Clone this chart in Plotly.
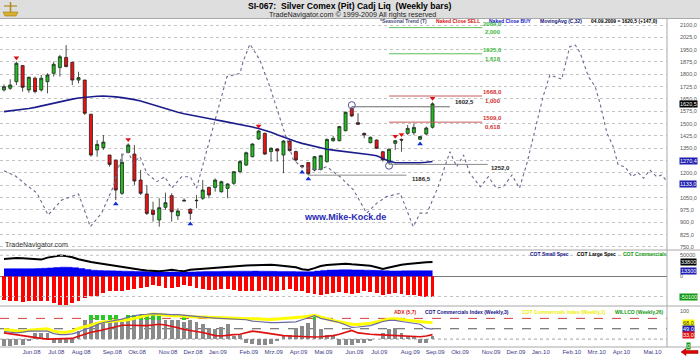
import numpy as np
import pandas as pd
import plotly.graph_objects as go

# ---------------- DATA ----------------
first_bar = "2008-05-09"   # first weekly bar (Friday)
opens = [1705, 1715, 1755, 1853, 1705, 1776, 1705, 1755, 1806, 1841,
         1903, 1873, 1765, 1765, 1557, 1340, 1354, 1309, 1279, 1076,
         1325, 1315, 1157, 1072, 973, 914, 991, 1062, 940, 1029,
         979, 1031, 1046, 1112, 1112, 1086, 1106, 1137, 1208, 1248,
         1299, 1407, 1441, 1330, 1346, 1309, 1394, 1330, 1245, 1263,
         1218, 1222, 1269, 1396, 1396, 1457, 1593, 1506, 1441, 1384,
         1400, 1329, 1262, 1380, 1404, 1441, 1445, 1405, 1437, 1478]
highs = [1739, 1770, 1877, 1855, 1786, 1786, 1796, 1806, 1877, 1918,
         1978, 1877, 1816, 1767, 1560, 1400, 1431, 1309, 1279, 1319,
         1380, 1370, 1218, 1127, 1025, 1046, 1080, 1076, 985, 1046,
         985, 1066, 1157, 1117, 1167, 1153, 1137, 1208, 1279, 1330,
         1380, 1461, 1445, 1356, 1350, 1400, 1400, 1336, 1250, 1265,
         1303, 1310, 1410, 1425, 1486, 1573, 1602.5, 1563, 1445, 1421,
         1404, 1333, 1350, 1400, 1410, 1492, 1502, 1425, 1482, 1630]
lows = [1695, 1705, 1735, 1695, 1688, 1684, 1695, 1684, 1786, 1786,
        1843, 1735, 1745, 1553, 1299, 1299, 1340, 1238, 1035, 1066,
        1319, 1127, 1066, 944, 904, 873, 975, 904, 914, 1025,
        914, 985, 1035, 1046, 1086, 1080, 1046, 1127, 1198, 1242,
        1295, 1400, 1309, 1269, 1269, 1198, 1330, 1269, 1228, 1186.5,
        1210, 1215, 1263, 1390, 1392, 1453, 1540, 1492, 1411, 1380,
        1346, 1269, 1252, 1340, 1329, 1431, 1431, 1400, 1431, 1470]
closes = [1725, 1735, 1867, 1721, 1782, 1695, 1776, 1796, 1861, 1907,
          1847, 1765, 1780, 1563, 1309, 1374, 1388, 1252, 1096, 1265,
          1370, 1151, 1076, 954, 948, 989, 1019, 964, 969, 1033,
          954, 1033, 1096, 1066, 1157, 1147, 1133, 1208, 1269, 1323,
          1376, 1455, 1315, 1350, 1334, 1394, 1336, 1279, 1238, 1195,
          1299, 1305, 1404, 1411, 1482, 1569, 1547, 1496, 1431, 1417,
          1350, 1279, 1344, 1396, 1400, 1471, 1477, 1421, 1473.5, 1620.5]
moving_avg_32 = [1573, 1577, 1581, 1586, 1592, 1599, 1608, 1616, 1625, 1633,
                 1641, 1649, 1656, 1661, 1665, 1667, 1668, 1667, 1663, 1658,
                 1653, 1646, 1638, 1626, 1614, 1602, 1591, 1579, 1569, 1560,
                 1552, 1545, 1539, 1531, 1524, 1517, 1510, 1504, 1497, 1488,
                 1479, 1470, 1459, 1447, 1432, 1417, 1403, 1391, 1380, 1371,
                 1360, 1352, 1344, 1339, 1335, 1329, 1325, 1321, 1317, 1311,
                 1305, 1290, 1272, 1262, 1261, 1261, 1261, 1262, 1265, 1270]
seasonal_week = [0, 1.8, 3.4, 5.3, 7.1, 9.3, 12.0, 13.9, 15.7, 17.6,
                 19.0, 20.0, 20.8, 21.9, 23.0, 24.6, 25.9, 27.0, 28.6, 30.0,
                 31.0, 32.1, 33.5, 34.8, 35.9, 38.0, 38.5, 39.6, 41.2, 42.8,
                 45.0, 46.6, 47.9, 50.4, 52.0, 54.1, 56.3, 58.4, 60.0, 61.6,
                 63.8, 65.9, 67.0, 68.1, 69.9, 71.8, 72.9, 74.0, 75.0, 76.7,
                 78.0, 79.3, 80.4, 81.8, 83.0, 84.2, 85.5, 86.8, 87.9, 89.8,
                 91.1, 92.0, 92.8, 94.1, 95.2, 96.0, 97.1, 98.1, 98.9, 100.0,
                 101.1, 102.1, 103.0, 104.0, 105.1, 105.9, 107.0]
seasonal_value = [1214, 1183, 1133, 1078, 944, 1035, 1072, 873, 955, 1116,
                  1309, 1329, 1261, 1299, 1198, 1147, 1177, 1107, 1177, 1177,
                  1107, 1259, 1461, 1644, 1786, 1806, 1877, 1984, 1887, 1725,
                  1461, 1279, 1238, 1218, 1238, 1177, 1096, 955, 1015, 1056,
                  1076, 873, 956, 955, 1116, 1329, 1238, 1309, 1198, 1116,
                  1177, 1107, 1116, 1188, 1107, 1259, 1461, 1664, 1796, 1770,
                  1968, 1978, 1928, 1786, 1725, 1619, 1441, 1360, 1248, 1238,
                  1177, 1202, 1168, 1218, 1177, 1188, 1137]
sell_bars = [2, 20, 41, 63, 64, 69]
buy_bars = [18, 30, 48, 49, 67]
pivot_high_bar = 56
pivot_low_bar = 62
swing_high = 1602.5
swing_low = 1186.5
swing_low_bar = 49
recent_low = 1252.0
fib_levels = [1509.0, 1668.0, 1925.0, 2084.0]
fib_labels = ["1509,0", "1668,0", "1925,0", "2084,0"]
fib_ratios = ["0,618", "1,000", "1,618", "2,000"]

cot_small_spec = [18000, 18200, 18200, 18000, 18200, 18500, 19000, 20000, 21000, 21800,
                  21500, 20500, 18500, 16000, 14500, 13800, 13400, 13000, 12600, 12200,
                  11800, 11500, 11200, 11000, 10800, 10500, 10200, 10500, 10200, 10000,
                  10500, 11000, 11200, 11400, 11600, 11800, 12000, 12000, 12200, 12200,
                  12400, 12200, 12000, 11800, 11600, 11400, 11200, 11000, 10800, 11000,
                  12500, 14000, 14800, 15200, 15500, 15500, 15200, 15000, 14600, 14200,
                  13800, 13200, 12800, 12800, 13000, 13300, 13400, 13300, 13300, 13300]
cot_large_spec = [41200, 42500, 43600, 43000, 42000, 40800, 39800, 44500, 47500, 49500,
                  48500, 45500, 40500, 37000, 34000, 31900, 29500, 26500, 23700, 21800,
                  19500, 17500, 15500, 13600, 12500, 11800, 13500, 15500, 13500, 12200,
                  15800, 17000, 18200, 19500, 21000, 22500, 23500, 24200, 25000, 25800,
                  26200, 26700, 27300, 27700, 26500, 25000, 23700, 21500, 17000, 15000,
                  19500, 24500, 27000, 28500, 29500, 30000, 28500, 27000, 26000, 25000,
                  21500, 17500, 21000, 25000, 27500, 29500, 31000, 33000, 33500, 33800]
cot_commercials = [-55600, -58000, -59600, -61200, -59600, -58000, -59600, -58000, -63600, -67500,
                   -69100, -63600, -58000, -51700, -47700, -46100, -39800, -35800, -35800, -34200,
                   -31800, -29400, -27900, -26300, -21500, -23900, -27900, -27900, -26300, -21500,
                   -23900, -27900, -29400, -31800, -31800, -29400, -29400, -31800, -34200, -35800,
                   -35800, -34200, -31800, -35800, -34200, -31800, -29400, -34200, -35800, -39800,
                   -42100, -43700, -42100, -39800, -37400, -39800, -42100, -39800, -35800, -37400,
                   -39800, -43700, -42100, -39800, -42100, -43700, -45300, -47700, -48500, -50100]

adx_5_7 = [38, 35, 32, 29, 27, 24, 22, 20, 20, 20,
           20, 22, 28, 34, 40, 43, 47, 51, 56, 60,
           60, 59, 58, 59, 61, 63, 61, 58, 53, 48,
           44, 42, 39, 34, 30, 29, 32, 33, 34, 39,
           43, 41, 38, 35, 32, 30, 29, 28, 28, 27,
           26, 27, 28, 30, 34, 40, 45, 38, 35, 34,
           33, 32, 30, 29, 28, 27, 26, 27, 29, 33]
cot_index_3 = [42, 40, 38, 40, 43, 43, 43, 43, 36, 33,
               33, 35, 40, 48, 53, 62, 68, 71, 73, 78,
               84, 88, 91, 92, 94, 93, 91, 91, 91, 89,
               87, 84, 83, 82, 81, 80, 80, 79, 79, 76,
               72, 70, 69, 68, 68, 68, 69, 70, 76, 82,
               88, 80, 75, 72, 68, 60, 54, 55, 57, 59,
               65, 71, 74, 74, 71, 68, 66, 63, 51, 49]
cot_index_1 = [48, 46, 44, 42, 46, 48, 49, 50, 43, 40,
               40, 43, 51, 56, 59, 66, 70, 71, 72, 74,
               76, 80, 85, 90, 93, 91, 89, 88, 88, 86,
               84, 84, 84, 83, 82, 81, 80, 80, 79, 79,
               79, 78, 77, 77, 78, 79, 80, 81, 84, 86,
               89, 84, 78, 74, 70, 66, 63, 62, 63, 66,
               70, 74, 78, 79, 77, 74, 71, 70, 69, 68]
willco_26 = [0, 0, 2, 2, 14, 38, 38, 38, 8, 8,
             8, 8, 43, 74, 74, 69, 71, 71, 74, 69,
             77, 79, 77, 79, 79, 77, 74, 74, 74, 71,
             74, 71, 64, 53, 48, 56, 64, 28, 33, 8,
             5, 3, 3, 5, 15, 28, 33, 53, 58, 68,
             78, 48, 33, 28, 3, 3, 3, 8, 10, 15,
             20, 38, 48, 53, 38, 28, 28, 8, 8, 28]
willco_extreme_bars = [14, 15, 16, 17, 18, 20, 21, 22, 23, 24, 25, 29, 50]
willco_extreme_top = [90, 90, 90, 90, 90, 90, 90, 90, 90, 90, 90, 88, 90]

month_labels = ["Jun.08", "Jul.08", "Aug.08", "Sep.08", "Okt.08", "Nov.08", "Dez.08",
                "Jan.09", "Feb.09", "Mrz.09", "Apr.09", "Mai.09", "Jun.09", "Jul.09",
                "Aug.09", "Sep.09", "Okt.09", "Nov.09", "Dez.09", "Jan.10", "Feb.10",
                "Mrz.10", "Apr.10", "Mai.10"]
price_tick_values = [750, 825, 900, 975, 1050, 1125, 1200, 1275, 1350, 1425,
                     1500, 1575, 1650, 1725, 1800, 1875, 1950, 2025, 2100]
price_tick_labels = ["750,0", "825,0", "900,0", "975,0", "1050,0", "1125,0", "1200,0",
                     "1275,0", "1350,0", "1425,0", "1500,0", "1575,0", "1650,0", "1725,0",
                     "1800,0", "1875,0", "1950,0", "2025,0", "2100,0"]

# ---------------- BUILD ----------------
W, H = 700, 356
FONT = "Liberation Sans"
t0 = pd.Timestamp(first_bar)
day = pd.Timedelta(days=1)
dates = pd.date_range(t0, periods=len(closes), freq="7D")
all_weeks = pd.date_range(t0, periods=110, freq="7D")


def wk(w):
    return t0 + pd.Timedelta(days=7 * w)


seasonal_dates = [wk(w) for w in seasonal_week]

# first weekly bar of each month -> tick positions
fw = pd.Series(all_weeks)
firsts = fw.groupby([fw.dt.year, fw.dt.month]).first().tolist()
firsts = [d for d in firsts if d > pd.Timestamp("2008-05-31")][:len(month_labels)]
tick_pos = [d + 3 * day for d in firsts]

x_range = [t0 - 4.5 * day, t0 + 747.3 * day]


def py(y):
    return 1 - y / H


fig = go.Figure()

# main panel
fig.add_trace(go.Scatter(x=seasonal_dates, y=seasonal_value, mode="lines",
                         line=dict(color="#6a6a90", width=1.1, dash="dot"),
                         xaxis="x", yaxis="y", hoverinfo="skip"))
fig.add_trace(go.Scatter(x=dates, y=moving_avg_32, mode="lines",
                         line=dict(color="#1c1c8c", width=1.6), xaxis="x", yaxis="y"))
fig.add_trace(go.Candlestick(x=dates, open=opens, high=highs, low=lows, close=closes,
                             increasing=dict(fillcolor="#22bb22", line=dict(color="#1e2a1e", width=0.8)),
                             decreasing=dict(fillcolor="#ee1111", line=dict(color="#2a1e1e", width=0.8)),
                             whiskerwidth=0, xaxis="x", yaxis="y"))
fig.add_trace(go.Scatter(x=[dates[i] for i in sell_bars], y=[highs[i] + 24 for i in sell_bars],
                         mode="markers", marker=dict(symbol="triangle-down", size=5, color="#e01010"),
                         xaxis="x", yaxis="y"))
fig.add_trace(go.Scatter(x=[dates[i] for i in buy_bars], y=[lows[i] - 24 for i in buy_bars],
                         mode="markers", marker=dict(symbol="triangle-up", size=5, color="#1030d0"),
                         xaxis="x", yaxis="y"))
fig.add_trace(go.Scatter(x=[dates[pivot_high_bar], dates[pivot_low_bar]],
                         y=[highs[pivot_high_bar] + 10, lows[pivot_low_bar] - 8],
                         mode="markers", marker=dict(symbol="circle-open", size=7,
                                                     color="#5050a0", line=dict(width=1)),
                         xaxis="x", yaxis="y"))

# COT panel
fig.add_trace(go.Bar(x=dates, y=cot_commercials, width=4.4 * 86400000,
                     marker=dict(color="#ff0000", line=dict(width=0)), xaxis="x2", yaxis="y2"))
fig.add_trace(go.Scatter(x=dates, y=cot_small_spec, mode="lines", line_shape="hv",
                         line=dict(color="#0000f0", width=0.5), fill="tozeroy",
                         fillcolor="#0000f0", xaxis="x2", yaxis="y2"))
fig.add_trace(go.Scatter(x=dates, y=cot_large_spec, mode="lines",
                         line=dict(color="#000000", width=2), xaxis="x2", yaxis="y2"))

# indicator panel
fig.add_trace(go.Bar(x=dates, y=[v - 20 for v in willco_26], base=20, width=4.4 * 86400000,
                     marker=dict(color="#8a8a8a", line=dict(width=0)), xaxis="x3", yaxis="y3"))
fig.add_trace(go.Bar(x=[dates[i] for i in willco_extreme_bars],
                     y=[t - 76 for t in willco_extreme_top], base=76, width=4.4 * 86400000,
                     marker=dict(color="#22cc22", line=dict(width=0)), xaxis="x3", yaxis="y3"))
fig.add_trace(go.Scatter(x=dates, y=cot_index_1, mode="lines",
                         line=dict(color="#ffff00", width=3), xaxis="x3", yaxis="y3"))
fig.add_trace(go.Scatter(x=dates, y=cot_index_3, mode="lines",
                         line=dict(color="#6a6aa6", width=1.2), xaxis="x3", yaxis="y3"))
fig.add_trace(go.Scatter(x=dates, y=adx_5_7, mode="lines",
                         line=dict(color="#dd1010", width=1.6), xaxis="x3", yaxis="y3"))

shapes = []
# header band
shapes.append(dict(type="rect", xref="paper", yref="paper", x0=0, x1=1, y0=py(18.5), y1=1,
                   fillcolor="#dedede", line=dict(width=0), layer="below"))
for yy in (18.5, 250, 306, 347):
    shapes.append(dict(type="line", xref="paper", yref="paper", x0=0, x1=1, y0=py(yy), y1=py(yy),
                       line=dict(color="#a8a8a8", width=1)))
shapes.append(dict(type="line", xref="paper", yref="paper", x0=667 / W, x1=667 / W,
                   y0=py(347), y1=py(18.5), line=dict(color="#a8a8a8", width=1)))

# fib lines
fib_start = dates[pivot_low_bar]
fib_end = wk(77)
for lvl in fib_levels:
    col = "#5cbf5c" if lvl > swing_high + 200 else "#cc5a5a"
    shapes.append(dict(type="line", xref="x", yref="y", x0=fib_start, x1=fib_end, y0=lvl, y1=lvl,
                       line=dict(color=col, width=1)))
# swing lines
shapes.append(dict(type="line", xref="x", yref="y", x0=dates[pivot_high_bar], x1=wk(71.8),
                   y0=swing_high, y1=swing_high, line=dict(color="#6a6a6a", width=1)))
shapes.append(dict(type="line", xref="x", yref="y", x0=dates[swing_low_bar], x1=wk(64.8),
                   y0=swing_low, y1=swing_low, line=dict(color="#8a8a8a", width=1)))
shapes.append(dict(type="line", xref="x", yref="y", x0=dates[pivot_low_bar], x1=wk(77.9),
                   y0=recent_low, y1=recent_low, line=dict(color="#8a8a8a", width=1)))

# COT dotted guides
for lvl in (50000, -48000):
    shapes.append(dict(type="line", xref="x2 domain", yref="y2", x0=0, x1=1, y0=lvl, y1=lvl,
                       line=dict(color="#c0c0c0", width=1, dash="dot")))
# indicator guides
shapes.append(dict(type="line", xref="x3 domain", yref="y3", x0=0, x1=1, y0=80, y1=80,
                   line=dict(color="#d04040", width=1, dash="dash"), layer="below"))
shapes.append(dict(type="line", xref="x3 domain", yref="y3", x0=0, x1=1, y0=50, y1=50,
                   line=dict(color="#555555", width=1, dash="dash"), layer="below"))
shapes.append(dict(type="line", xref="x3 domain", yref="y3", x0=0, x1=1, y0=20, y1=20,
                   line=dict(color="#a0a0a0", width=1, dash="dot"), layer="below"))

# red arrow bottom right
ax0, ax1, ay = 681 / W, 698 / W, 352
ah = 686 / W
path = (f"M {ax0},{py(ay)} L {ah},{py(ay - 3.5)} L {ah},{py(ay - 1.5)} L {ax1},{py(ay - 1.5)} "
        f"L {ax1},{py(ay + 1.5)} L {ah},{py(ay + 1.5)} L {ah},{py(ay + 3.5)} Z")
shapes.append(dict(type="path", xref="paper", yref="paper", path=path,
                   fillcolor="#dd0000", line=dict(color="#990000", width=0.5)))
# small gold logo
lp = (f"M {3/W},{py(12)} L {18/W},{py(12)} L {16/W},{py(16)} L {5/W},{py(16)} Z")
shapes.append(dict(type="path", xref="paper", yref="paper", path=lp,
                   fillcolor="#d8b030", line=dict(color="#a07a10", width=0.6)))
shapes.append(dict(type="line", xref="paper", yref="paper", x0=10.5 / W, x1=10.5 / W,
                   y0=py(12), y1=py(2), line=dict(color="#b08a20", width=1.5)))
shapes.append(dict(type="line", xref="paper", yref="paper", x0=4 / W, x1=17 / W,
                   y0=py(6), y1=py(6), line=dict(color="#b08a20", width=1.2)))

ann = []


def txt(x, y, s, size, color, bold=False, anchor="center"):
    ann.append(dict(x=x / W, y=py(y), xref="paper", yref="paper",
                    text=f"<b>{s}</b>" if bold else s, showarrow=False,
                    font=dict(size=size, color=color, family=FONT),
                    xanchor=anchor, yanchor="middle"))


txt(349, 6.5, "SI-067:  Silver Comex (Pit) Cadj Liq  (Weekly bars)", 8.6, "#000000", bold=True)
txt(352, 14.5, "TradeNavigator.com © 1999-2009 All rights reserved", 7.2, "#222222")
txt(378, 21, "*Seasonal Trend (T)", 5, "#4a4a7a", bold=True, anchor="left")
txt(434, 21, "Naked Close SELL", 5, "#dd1111", bold=True, anchor="left")
txt(487, 21, "Naked Close BUY", 5, "#1111cc", bold=True, anchor="left")
txt(538, 21, "MovingAvg (C,32)", 5, "#10107a", bold=True, anchor="left")
txt(589, 21, "04.09.2009 = 1620,5 (+147,0)", 5, "#000000", bold=True, anchor="left")
txt(3, 245, "TradeNavigator.com", 7, "#333333", anchor="left")
txt(345, 217, "www.Mike-Kock.de", 9, "#2a2ab4", bold=True)
txt(528, 253.5, "COT Small Spec", 5, "#10108a", bold=True, anchor="left")
txt(575, 253.5, "COT Large Spec", 5, "#000000", bold=True, anchor="left")
txt(621, 253.5, "COT Commercials", 5, "#119911", bold=True, anchor="left")
txt(392, 311.5, "ADX (5,7)", 5, "#dd1111", bold=True, anchor="left")
txt(423, 311.5, "COT Commercials Index (Weekly,3)", 5, "#10108a", bold=True, anchor="left")
txt(520, 311.5, "COT Commercials Index (Weekly,1)", 5, "#eeee00", bold=True, anchor="left")
txt(613, 311.5, "WILLCO (Weekly,26)", 5, "#119911", bold=True, anchor="left")

# fib & swing labels (data anchored)
for lvl, lab, rat in zip(fib_levels, fib_labels, fib_ratios):
    col = "#3db83d" if lvl > swing_high + 200 else "#d03030"
    ann.append(dict(x=wk(78.7), y=lvl, xref="x", yref="y", text=f"<b>{lab}</b>", showarrow=False,
                    yshift=4, font=dict(size=6, color=col, family=FONT)))
    ann.append(dict(x=wk(78.7), y=lvl, xref="x", yref="y", text=f"<b>{rat}</b>", showarrow=False,
                    yshift=-4.8, font=dict(size=6, color=col, family=FONT)))
ann.append(dict(x=wk(72.3), y=swing_high, xref="x", yref="y", text="<b>1602,5</b>", showarrow=False,
                xanchor="left", yshift=4.5, font=dict(size=6, color="#222222", family=FONT)))
ann.append(dict(x=wk(65.4), y=swing_low, xref="x", yref="y", text="<b>1186,5</b>", showarrow=False,
                xanchor="left", yshift=-4, font=dict(size=6, color="#222222", family=FONT)))
ann.append(dict(x=wk(78.1), y=recent_low, xref="x", yref="y", text="<b>1252,0</b>", showarrow=False,
                xanchor="left", yshift=-4, font=dict(size=6, color="#222222", family=FONT)))


def box(yv, yref, text, bg, fg="#ffffff"):
    ann.append(dict(x=688 / W, y=yv, xref="paper", yref=yref, text=text, showarrow=False,
                    xanchor="center", yanchor="middle", bgcolor=bg, borderpad=0,
                    font=dict(size=5.5, color=fg, family=FONT)))


box(closes[-1], "y", "1620,5", "#000000")
box(moving_avg_32[-1], "y", f"{moving_avg_32[-1]},4", "#2020b0")
box(1133, "y", "1133,0", "#2020b0")
box(cot_large_spec[-1], "y2", f"{cot_large_spec[-1]}", "#000000")
box(cot_small_spec[-1], "y2", f"{cot_small_spec[-1]}", "#2020b0")
box(cot_commercials[-1], "y2", f"{cot_commercials[-1]}", "#119911")
box(cot_index_1[-1], "y3", f"{cot_index_1[-1]},0", "#ffff00", "#333333")
box(cot_index_3[-1], "y3", f"{cot_index_3[-1]},0", "#2020b0")
box(adx_5_7[-1], "y3", f"{adx_5_7[-1]},0", "#dd1111")
box(0, "y3", "0", "#119911")

xd = [0, 667 / W]
common_x = dict(type="date", range=x_range, domain=xd, showgrid=False, zeroline=False,
                showline=False, fixedrange=True)
axfont = dict(size=5.5, color="#555555", family=FONT)

fig.update_layout(
    width=W, height=H, margin=dict(l=0, r=0, t=0, b=0),
    paper_bgcolor="#ffffff", plot_bgcolor="#ffffff",
    showlegend=False, barmode="overlay", bargap=0,
    xaxis=dict(common_x, anchor="y", showticklabels=False, rangeslider=dict(visible=False)),
    xaxis2=dict(common_x, anchor="y2", matches="x", showticklabels=False),
    xaxis3=dict(common_x, anchor="y3", matches="x", tickvals=tick_pos, ticktext=month_labels,
                tickfont=dict(size=6, color="#3a3a8a", family=FONT), ticks=""),
    yaxis=dict(domain=[py(250), py(19)], range=[731.3, 2136.5], side="right", anchor="x",
               tickvals=price_tick_values, ticktext=price_tick_labels, tickfont=axfont,
               ticklabelstandoff=12, showgrid=True, gridcolor="#c4c4c4", griddash="dot",
               gridwidth=1, zeroline=False, ticks="", automargin=False),
    yaxis2=dict(domain=[py(306), py(250)], range=[-70700, 62600], side="right", anchor="x2",
                tickvals=[50000, 0], ticktext=["50000", "0"], tickfont=axfont,
                ticklabelstandoff=12, showgrid=False, zeroline=True, zerolinecolor="#7a7a7a",
                zerolinewidth=1, ticks="", automargin=False),
    yaxis3=dict(domain=[py(347), py(306)], range=[-2.9, 115.9], side="right", anchor="x3",
                tickvals=[100], ticktext=["100"], tickfont=axfont, ticklabelstandoff=12,
                showgrid=False, zeroline=False, ticks="", automargin=False),
    shapes=shapes, annotations=ann,
)

fig.write_html("out.html", config={"displayModeBar": False},
               post_script="document.body.style.margin='0px';document.body.style.padding='0px';")
